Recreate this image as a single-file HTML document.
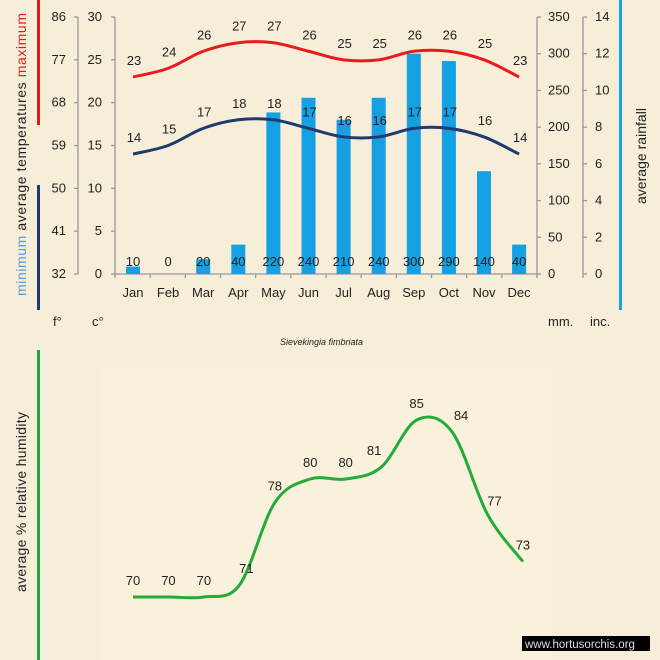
<!DOCTYPE html>
<html><head><meta charset="utf-8"><style>
body{margin:0;background:#f6eed8;}
svg{display:block;font-family:"Liberation Sans","DejaVu Sans",sans-serif;}
</style></head><body>
<svg id="s" width="660" height="660" viewBox="0 0 660 660">
<rect width="660" height="660" fill="#f6eed8"/>
<rect x="100" y="368" width="452" height="292" fill="#f9f1dc"/>
<rect x="37" y="0" width="3" height="125" fill="#e31a1c"/>
<rect x="37" y="185" width="3" height="125" fill="#1f3a6e"/>
<rect x="619" y="0" width="3" height="310" fill="#1aa3e0"/>
<rect x="37" y="350" width="3" height="310" fill="#21a544"/>
<g font-size="14" fill="#222" style="white-space:pre">
<text transform="translate(26,296) rotate(-90)" textLength="283" lengthAdjust="spacing"><tspan fill="#5b9bd5">minimum</tspan>  average  temperatures  <tspan fill="#e31a1c">maximum</tspan></text>
<text transform="translate(646,204) rotate(-90)" textLength="96" lengthAdjust="spacing">average rainfall</text>
<text transform="translate(26,592) rotate(-90)" textLength="180" lengthAdjust="spacing">average %   relative humidity</text>
</g>
<g id="axes" stroke="#999" stroke-width="1.3" fill="none"></g>
<g id="bars" fill="#14a0e3"></g>
<path id="pmax" stroke="#e81c1c" stroke-width="3" fill="none"/>
<path id="pmin" stroke="#1f3a6e" stroke-width="3" fill="none"/>
<path id="phum" stroke="#22ac38" stroke-width="3" fill="none"/>
<g id="txt" font-size="13" fill="#222"></g>
<text x="280" y="345" font-size="9" font-style="italic" fill="#222">Sievekingia fimbriata</text>
<rect x="522" y="636" width="128" height="15" fill="#000"/>
<text x="525" y="648" font-size="11.5" fill="#ddd">www.hortusorchis.org</text>
</svg>
<script>
(function(){
const NS="http://www.w3.org/2000/svg";
function el(p,t,a,txt){const e=document.createElementNS(NS,t);for(const k in a)e.setAttribute(k,a[k]);if(txt!==undefined)e.textContent=txt;document.getElementById(p).appendChild(e);return e;}
const mon=["Jan","Feb","Mar","Apr","May","Jun","Jul","Aug","Sep","Oct","Nov","Dec"];
const X=i=>133+i*35.1;
const Y0=274,topY=17;
el("axes","line",{x1:78,y1:topY,x2:78,y2:Y0});
el("axes","line",{x1:115,y1:topY,x2:115,y2:Y0+2});
el("axes","line",{x1:537,y1:topY,x2:537,y2:Y0+4});
el("axes","line",{x1:583,y1:topY,x2:583,y2:Y0+4});
el("axes","line",{x1:115,y1:Y0,x2:537,y2:Y0});
for(let i=0;i<=12;i++){const x=115+i*35.17;el("axes","line",{x1:x,y1:Y0,x2:x,y2:Y0+4});}
const F=[32,41,50,59,68,77,86],C=[0,5,10,15,20,25,30];
for(let k=0;k<7;k++){const y=Y0-k*(Y0-topY)/6;
 el("axes","line",{x1:74,y1:y,x2:78,y2:y});el("axes","line",{x1:111,y1:y,x2:115,y2:y});
 el("txt","text",{x:66,y:y+4,"text-anchor":"end"},F[k]);el("txt","text",{x:102,y:y+4,"text-anchor":"end"},C[k]);}
for(let k=0;k<=7;k++){const y=Y0-k*(Y0-topY)/7;
 el("axes","line",{x1:537,y1:y,x2:541,y2:y});el("axes","line",{x1:583,y1:y,x2:587,y2:y});
 el("txt","text",{x:548,y:y+4},k*50);el("txt","text",{x:595,y:y+4},k*2);}
const rain=[10,0,20,40,220,240,210,240,300,290,140,40];
const tmax=[23,24,26,27,27,26,25,25,26,26,25,23],tmin=[14,15,17,18,18,17,16,16,17,17,16,14];
const hum=[70,70,70,71,78,80,80,81,85,84,77,73];
const mm=(Y0-topY)/350,cs=(Y0-topY)/30;
rain.forEach((r,i)=>{const h=r*mm;if(h>0)el("bars","rect",{x:X(i)-7,y:Y0-h,width:14,height:h});
 el("txt","text",{x:X(i),y:266,"text-anchor":"middle"},r);
 el("txt","text",{x:X(i),y:297,"text-anchor":"middle"},mon[i]);});
function cr(pts){let d="M"+pts[0][0]+","+pts[0][1];for(let i=0;i<pts.length-1;i++){const p0=pts[Math.max(0,i-1)],p1=pts[i],p2=pts[i+1],p3=pts[Math.min(pts.length-1,i+2)];
 d+=" C"+(p1[0]+(p2[0]-p0[0])/6)+","+(p1[1]+(p2[1]-p0[1])/6)+" "+(p2[0]-(p3[0]-p1[0])/6)+","+(p2[1]-(p3[1]-p1[1])/6)+" "+p2[0]+","+p2[1];}return d;}
const pm=tmax.map((t,i)=>[X(i),Y0-t*cs]),pn=tmin.map((t,i)=>[X(i),Y0-t*cs]);
document.getElementById("pmax").setAttribute("d",cr(pm));
document.getElementById("pmin").setAttribute("d",cr(pn));
tmax.forEach((t,i)=>el("txt","text",{x:X(i)+1,y:pm[i][1]-12,"text-anchor":"middle"},t));
tmin.forEach((t,i)=>el("txt","text",{x:X(i)+1,y:pn[i][1]-12,"text-anchor":"middle"},t));
const HX=i=>133+i*35.45;
const ph=hum.map((h,i)=>[HX(i),597-(h-70)*11.8]);
document.getElementById("phum").setAttribute("d",cr(ph));
hum.forEach((h,i)=>el("txt","text",{x:HX(i)+(i==3||i==10?7:i==9?9:i==7?-7:0),y:ph[i][1]-12+(i==10?3:0),"text-anchor":"middle"},h));
el("txt","text",{x:53,y:326,"font-size":"13"},"f°");
el("txt","text",{x:92,y:326,"font-size":"13"},"c°");
el("txt","text",{x:548,y:326,"font-size":"13"},"mm.");
el("txt","text",{x:590,y:326,"font-size":"13"},"inc.");
})();
</script>
</body></html>
